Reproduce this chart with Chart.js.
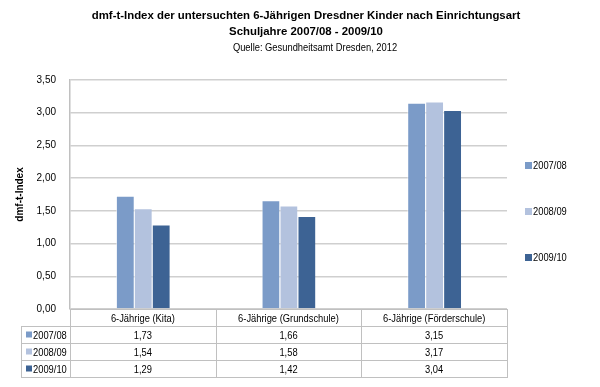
<!DOCTYPE html>
<html>
<head>
<meta charset="utf-8">
<script src="https://cdn.jsdelivr.net/npm/chart.js@4"></script>
<style>
  html, body { margin: 0; padding: 0; background: #fff; }
  #wrap { width: 600px; height: 387px; }
</style>
</head>
<body>
<div id="wrap"><canvas id="chart" width="600" height="387"></canvas></div>
<script>
// Data
const categories = ['6-Jährige (Kita)', '6-Jährige (Grundschule)', '6-Jährige (Förderschule)'];
const seriesNames = ['2007/08', '2008/09', '2009/10'];
const values0708 = [1.73, 1.66, 3.15];
const values0809 = [1.54, 1.58, 3.17];
const values0910 = [1.29, 1.42, 3.04];
const colors = ['#7b9bc8', '#b3c2de', '#3d6394'];
const sourceNote = 'Quelle: Gesundheitsamt Dresden, 2012';

const FONT = 'Liberation Sans, Arial, sans-serif';
const SQUEEZE = 0.85; // reference text is a narrow Arial
const fmt = v => v.toFixed(2).replace('.', ',');

// draw text horizontally squeezed, anchored like textAlign
function narrowText(ctx, text, x, y, align) {
    ctx.save();
    ctx.translate(x, y);
    ctx.scale(SQUEEZE, 1);
    ctx.textAlign = align;
    ctx.fillText(text, 0, 0);
    ctx.restore();
}

// Legend on the right, source line and data table underneath the plot
const tablePlugin = {
    id: 'dataTable',
    afterDraw(chart) {
        const ctx = chart.ctx;
        const area = chart.chartArea;
        const x = chart.scales.x;
        const rowH = 17;
        const left = 21;
        const top = area.bottom;
        const bottom = top + rowH * 4;

        ctx.save();
        ctx.strokeStyle = '#c0c0c0';
        ctx.lineWidth = 1;

        const n = categories.length;
        const step = (area.right - area.left) / n;
        const edges = [];
        for (let i = 0; i <= n; i++) edges.push(Math.round(area.left + step * i) + 0.5);

        ctx.beginPath();
        ctx.moveTo(edges[0], top + 0.5); ctx.lineTo(edges[n], top + 0.5);
        for (let r = 1; r <= 4; r++) {
            const y = Math.round(top + rowH * r) + 0.5;
            ctx.moveTo(left + 0.5, y); ctx.lineTo(edges[n], y);
        }
        for (let i = 0; i <= n; i++) {
            ctx.moveTo(edges[i], top); ctx.lineTo(edges[i], bottom + 1);
        }
        ctx.moveTo(left + 0.5, top + rowH); ctx.lineTo(left + 0.5, bottom + 1);
        ctx.stroke();

        ctx.fillStyle = '#000';
        ctx.font = '11px ' + FONT;
        ctx.textBaseline = 'middle';

        // source line under the title
        narrowText(ctx, sourceNote, 315, 48, 'center');

        categories.forEach((c, i) => {
            narrowText(ctx, c, x.getPixelForValue(i), top + rowH / 2 + 1, 'center');
        });

        const rows = [values0708, values0809, values0910];
        rows.forEach((vals, r) => {
            const y = top + rowH * (r + 1) + rowH / 2 + 1;
            ctx.fillStyle = colors[r];
            ctx.fillRect(26, y - 4, 6, 6);
            ctx.fillStyle = '#000';
            narrowText(ctx, seriesNames[r], 33, y, 'left');
            vals.forEach((v, i) => narrowText(ctx, fmt(v), x.getPixelForValue(i), y, 'center'));
        });

        // legend at the right
        const legendY = [166, 212, 258];
        seriesNames.forEach((s, i) => {
            ctx.fillStyle = colors[i];
            ctx.fillRect(525, legendY[i] - 4, 7, 7);
            ctx.fillStyle = '#000';
            narrowText(ctx, s, 533, legendY[i], 'left');
        });
        ctx.restore();
    }
};

const ctx = document.getElementById('chart').getContext('2d');
const chart = new Chart(ctx, {
    type: 'bar',
    data: {
        labels: categories,
        datasets: [
            { label: seriesNames[0], data: values0708, backgroundColor: colors[0] },
            { label: seriesNames[1], data: values0809, backgroundColor: colors[1] },
            { label: seriesNames[2], data: values0910, backgroundColor: colors[2] }
        ]
    },
    options: {
        responsive: false,
        animation: false,
        layout: { padding: { left: 12, right: 0, bottom: 0, top: 0 } },
        datasets: {
            bar: {
                categoryPercentage: 0.37,
                barPercentage: 1,
                borderColor: 'rgba(255,255,255,0.6)',
                borderWidth: { left: 1, right: 0, top: 1, bottom: 0 }
            }
        },
        plugins: {
            legend: { display: false },
            tooltip: { enabled: false },
            title: {
                display: true,
                text: ['dmf-t-Index der untersuchten 6-Jährigen Dresdner Kinder nach Einrichtungsart',
                       'Schuljahre 2007/08 - 2009/10'],
                color: '#000',
                font: { family: FONT, size: 11.4, weight: 'bold', lineHeight: 1.48 },
                padding: { top: 7, bottom: 0 }
            },
            // keeps the room for the source line, which the plugin draws narrower
            subtitle: {
                display: true,
                text: ' ',
                font: { family: FONT, size: 11, lineHeight: 1.2 },
                padding: { top: 2, bottom: 24 }
            }
        },
        scales: {
            x: {
                grid: { display: false },
                border: { display: true, color: '#c0c0c0' },
                ticks: { display: false },
                afterFit: scale => { scale.height = 78; }
            },
            y: {
                min: 0,
                max: 3.5,
                ticks: {
                    stepSize: 0.5,
                    padding: 14,
                    color: '#000',
                    font: { family: FONT, size: 10 },
                    callback: v => fmt(v)
                },
                grid: { color: '#cfcfcf', drawTicks: false, lineWidth: 1.5 },
                border: { display: true, color: '#c0c0c0', width: 1.5 },
                title: {
                    display: true,
                    text: 'dmf-t-Index',
                    color: '#000',
                    font: { family: FONT, size: 10, weight: 'bold' },
                    padding: { top: 2, bottom: 4 }
                },
                afterFit: scale => { scale.width = 58; }
            },
            // empty axis that only keeps room for the legend on the right
            legendSpace: {
                type: 'linear',
                position: 'right',
                display: true,
                grid: { display: false },
                border: { display: false },
                ticks: { display: false },
                afterFit: scale => { scale.width = 93; }
            }
        }
    },
    plugins: [tablePlugin]
});
</script>
</body>
</html>
